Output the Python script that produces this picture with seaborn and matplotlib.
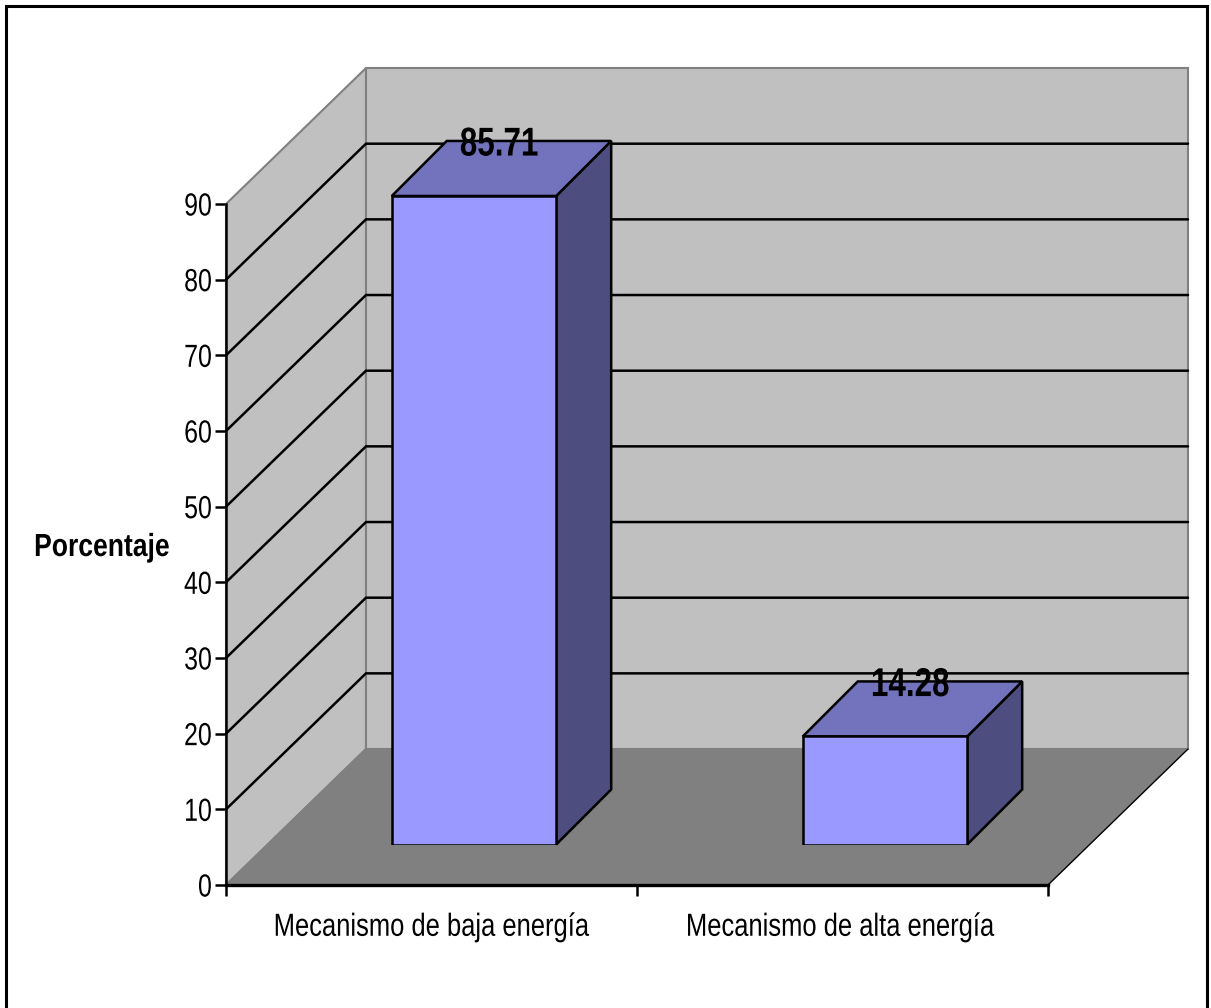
import matplotlib
matplotlib.use("Agg")
import matplotlib.pyplot as plt
from matplotlib.patches import Polygon, Rectangle
from matplotlib.patheffects import AbstractPathEffect
from matplotlib.transforms import Affine2D
import seaborn as sns

# Chart values
categorias = ["Mecanismo de baja energía", "Mecanismo de alta energía"]
porcentajes = [85.71, 14.28]
marcas_y = [0, 10, 20, 30, 40, 50, 60, 70, 80, 90]
titulo_y = "Porcentaje"

# Figure and pseudo-3D geometry (expressed in axis units)
W, H = 1211, 1008
PROF_X, PROF_Y = 0.3406, 17.97      # depth of the chart box
CAJA_X, CAJA_Y = 0.1338, 7.27       # depth of each column
COL_PX, COL_PY = 42.5, 40.5         # column layer offset, pixels
LW = 1.8

PARED, SUELO, BORDE = "#C0C0C0", "#808080", "#808080"
FRENTE, TAPA, LADO = "#9999FF", "#7373BD", "#4D4D80"

sns.set_style("white")
plt.rcParams["font.family"] = ["Liberation Sans", "DejaVu Sans"]


class Condensado(AbstractPathEffect):
    """Squeezes a text horizontally around a fraction of its own width."""

    def __init__(self, factor, ancla=0.5):
        super().__init__()
        self.factor = factor
        self.ancla = ancla

    def draw_path(self, renderer, gc, tpath, affine, rgbFace=None):
        caja = tpath.get_extents()
        cx = caja.x0 + self.ancla * caja.width
        escala = Affine2D().translate(-cx, 0).scale(self.factor, 1).translate(cx, 0)
        renderer.draw_path(gc, tpath, escala + affine, rgbFace)


fig = plt.figure(figsize=(W / 100, H / 100), dpi=100, facecolor="white")
ax = fig.add_axes([226 / W, (H - 885) / H, 822 / W, 681 / H])
ax.set_facecolor("none")
x0, x1 = -0.5, 1.5
y0, y1 = marcas_y[0], marcas_y[-1]
ax.set_xlim(x0, x1)
ax.set_ylim(y0, y1)


def cara(eje, puntos, color, borde, lw=LW, z=1):
    eje.add_patch(Polygon(puntos, closed=True, facecolor=color, edgecolor=borde,
                          linewidth=lw, joinstyle="miter", clip_on=False, zorder=z))


# Walls and floor of the box
cara(ax, [(x0, y0), (x0 + PROF_X, y0 + PROF_Y), (x0 + PROF_X, y1 + PROF_Y), (x0, y1)], PARED, BORDE, lw=1.5)
cara(ax, [(x0 + PROF_X, y0 + PROF_Y), (x1 + PROF_X, y0 + PROF_Y),
          (x1 + PROF_X, y1 + PROF_Y), (x0 + PROF_X, y1 + PROF_Y)], PARED, BORDE, lw=1.5)
cara(ax, [(x0, y0), (x1, y0), (x1 + PROF_X, y0 + PROF_Y), (x0 + PROF_X, y0 + PROF_Y)], SUELO, "none", lw=0)
ax.plot([x0, x0 + PROF_X, x1 + PROF_X], [y0, y0 + PROF_Y, y0 + PROF_Y], color=BORDE,
        lw=1.5, clip_on=False, zorder=2)
ax.plot([x1, x1 + PROF_X], [y0, y0 + PROF_Y], color="black", lw=1, clip_on=False, zorder=2)

# Gridlines running along the side wall and the back wall
for v in marcas_y[1:-1]:
    ax.plot([x0, x0 + PROF_X, x1 + PROF_X], [v, v + PROF_Y, v + PROF_Y], color="black",
            lw=LW, clip_on=False, solid_joinstyle="miter", zorder=3)

# Axes furniture
for lado in ("top", "right"):
    ax.spines[lado].set_visible(False)
ax.spines["left"].set_linewidth(LW)
ax.spines["bottom"].set_linewidth(2.4)
for lado in ("left", "bottom"):
    ax.spines[lado].set_color("black")
    ax.spines[lado].set_zorder(5)
ax.set_yticks(marcas_y)
ax.tick_params(axis="y", length=8, width=LW, color="black", left=True,
               labelsize=23, pad=2, labelcolor="black")
ax.set_xticks(range(len(categorias)), categorias)
ax.set_xticks([x0, 0.5, x1], minor=True)
ax.tick_params(axis="x", which="major", length=0, labelsize=23, pad=20, labelcolor="black")
ax.tick_params(axis="x", which="minor", length=8, width=LW, color="black", bottom=True)
ax.set_ylabel(titulo_y, rotation=0, fontsize=23, fontweight="bold", color="black",
              ha="right", va="center")
ax.yaxis.set_label_coords((170 - 226) / 822, (885 - 548) / 681)
ax.grid(False)

for etiqueta in ax.get_yticklabels():
    etiqueta.set_path_effects([Condensado(0.78, ancla=1.0)])
for etiqueta, ancla in zip(ax.get_xticklabels(), (0.5, 0.47)):
    etiqueta.set_path_effects([Condensado(0.80, ancla=ancla)])
ax.yaxis.label.set_path_effects([Condensado(0.83, ancla=1.0)])

# Column layer: same scales, shifted onto the floor of the box
capa = fig.add_axes([(226 + COL_PX) / W, (H - 885 + COL_PY) / H, 822 / W, 681 / H])
capa.patch.set_alpha(0)
sns.barplot(x=categorias, y=porcentajes, width=0.4, color=FRENTE, saturation=1,
            edgecolor="black", linewidth=LW, ax=capa, zorder=4)
capa.set_xlim(x0, x1)
capa.set_ylim(y0, y1)
capa.axis("off")

for barra, valor in zip(capa.patches, porcentajes):
    xa = barra.get_x()
    xb = xa + barra.get_width()
    cara(capa, [(xb, 0), (xb + CAJA_X, CAJA_Y), (xb + CAJA_X, valor + CAJA_Y), (xb, valor)],
         LADO, "black", z=3)
    cara(capa, [(xa, valor), (xb, valor), (xb + CAJA_X, valor + CAJA_Y), (xa + CAJA_X, valor + CAJA_Y)],
         TAPA, "black", z=3)
    rotulo = capa.annotate(f"{valor:.2f}", xy=((xa + xb) / 2, valor), xytext=(18, 37),
                           textcoords="offset points", ha="center", va="center", fontsize=29,
                           fontweight="bold", color="black", annotation_clip=False, zorder=6)
    rotulo.set_path_effects([Condensado(0.78, ancla=0.5)])

# Outer frame, open at the lower edge of the canvas
fig.add_artist(Rectangle((6 / W, -0.02), 1201 / W, (H - 6) / H + 0.02, fill=False,
                         edgecolor="black", linewidth=2.2, transform=fig.transFigure))

fig.savefig("out.png", dpi=100)
